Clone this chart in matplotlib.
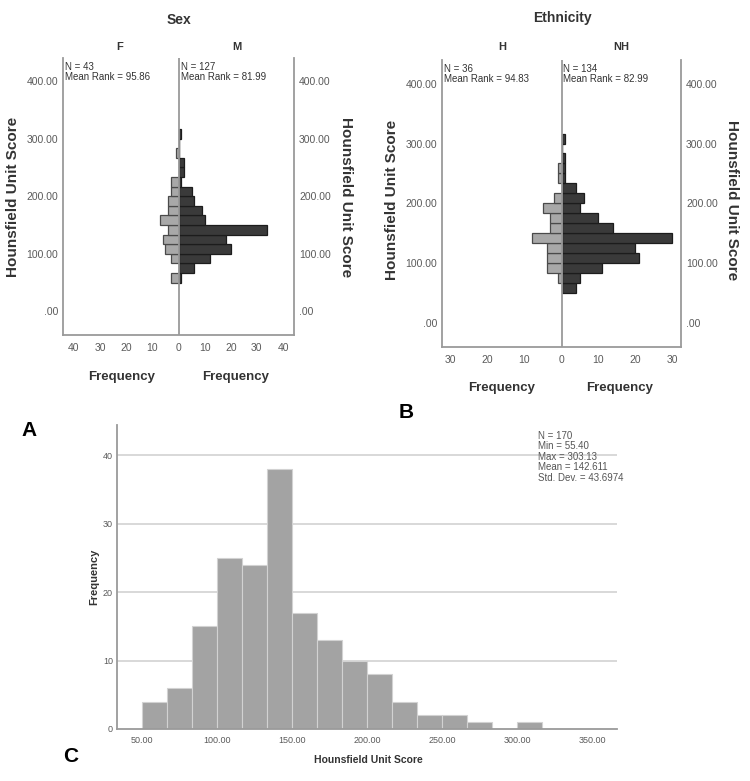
import numpy as np
import matplotlib
matplotlib.use("Agg")
import matplotlib.pyplot as plt

# bins shared by every histogram (Hounsfield unit score)
bin_left = [50.00, 66.67, 83.33, 100.00, 116.67, 133.33, 150.00, 166.67,
            183.33, 200.00, 216.67, 233.33, 250.00, 266.67, 283.33, 300.00]
bin_width = 16.667

# frequencies per bin
female = [3, 0, 3, 5, 6, 4, 7, 4, 4, 3, 3, 0, 0, 1, 0, 0]
male = [1, 6, 12, 20, 18, 34, 10, 9, 6, 5, 1, 2, 2, 0, 0, 1]
hispanic = [0, 1, 4, 4, 4, 8, 3, 3, 5, 2, 0, 1, 1, 0, 0, 0]
non_hispanic = [4, 5, 11, 21, 20, 30, 14, 10, 5, 6, 4, 1, 1, 1, 0, 1]
total = [4, 6, 15, 25, 24, 38, 17, 13, 10, 8, 4, 2, 2, 1, 0, 1]

hu_ticks = [0, 100, 200, 300, 400]
hu_tick_labels = [".00", "100.00", "200.00", "300.00", "400.00"]
hist_xticks = [50, 100, 150, 200, 250, 300, 350]
hist_yticks = [0, 10, 20, 30, 40]
stats_text = "N = 170\nMin = 55.40\nMax = 303.13\nMean = 142.611\nStd. Dev. = 43.6974"

plt.rcParams["font.family"] = ["Liberation Sans", "DejaVu Sans"]
NARROW = ["Liberation Sans Narrow", "Liberation Sans", "DejaVu Sans"]
LIGHT = "#a8a8a8"
DARK = "#3a3a3a"
FRAME = "#9a9a9a"
TICK = "#5a5a5a"

W, H = 750, 781
fig = plt.figure(figsize=(7.5, 7.81), dpi=100)


def box(x0, y0, x1, y1):
    return [x0 / W, 1 - y1 / H, (x1 - x0) / W, (y1 - y0) / H]


def ftext(x, y, s, **kw):
    fig.text(x / W, 1 - y / H, s, **kw)


def pyramid(ax, left_counts, right_counts, xmax, xticks):
    centers = np.array(bin_left) + bin_width / 2
    ax.barh(centers, -np.array(left_counts), height=bin_width, color=LIGHT,
            edgecolor="#4a4a4a", linewidth=0.9, zorder=2)
    ax.barh(centers, right_counts, height=bin_width, color=DARK,
            edgecolor="#1c1c1c", linewidth=0.9, zorder=2)
    ax.axvline(0, color=FRAME, lw=1.3, zorder=3)
    ax.set_xlim(-xmax, xmax)
    ax.set_ylim(-41, 440)
    ax.set_xticks(xticks)
    ax.set_xticklabels([str(abs(t)) for t in xticks])
    ax.set_yticks(hu_ticks)
    ax.set_yticklabels(hu_tick_labels)
    ax.tick_params(axis="both", length=0, colors=TICK, labelsize=7.5)
    ax.tick_params(axis="y", labelright=True, pad=3.6)
    ax.tick_params(axis="x", pad=5.5)
    for lbl in ax.get_xticklabels() + ax.get_yticklabels():
        lbl.set_fontfamily(NARROW)
    for t in ax.yaxis.get_major_ticks():
        t.label2.set_fontfamily(NARROW)
    ax.spines["top"].set_visible(False)
    for s in ["left", "right", "bottom"]:
        ax.spines[s].set_color(FRAME)
        ax.spines[s].set_linewidth(1.3)


# ---- A : Sex
axA = fig.add_axes(box(63, 58, 294, 335))
pyramid(axA, female, male, 44.2, [-40, -30, -20, -10, 0, 10, 20, 30, 40])
ftext(179, 20, "Sex", ha="center", va="center", fontsize=10, fontweight="bold", color="#333333")
ftext(120, 47, "F", ha="center", va="center", fontsize=8, fontweight="bold", color="#333333")
ftext(237, 47, "M", ha="center", va="center", fontsize=8, fontweight="bold", color="#333333")
ftext(65, 62, "N = 43\nMean Rank = 95.86", ha="left", va="top", fontsize=7,
      family=NARROW, linespacing=1.05, color="#333333")
ftext(181, 62, "N = 127\nMean Rank = 81.99", ha="left", va="top", fontsize=7,
      family=NARROW, linespacing=1.05, color="#333333")
ftext(13, 197, "Hounsfield Unit Score", ha="center", va="center", rotation=90,
      fontsize=11, fontweight="bold", color="#333333")
ftext(346, 197, "Hounsfield Unit Score", ha="center", va="center", rotation=270,
      fontsize=11, fontweight="bold", color="#333333")
ftext(122, 377, "Frequency", ha="center", va="center", fontsize=9.5, fontweight="bold", color="#333333")
ftext(236, 377, "Frequency", ha="center", va="center", fontsize=9.5, fontweight="bold", color="#333333")

# ---- B : Ethnicity
axB = fig.add_axes(box(442, 60, 681, 347))
pyramid(axB, hispanic, non_hispanic, 32.3, [-30, -20, -10, 0, 10, 20, 30])
ftext(562, 18, "Ethnicity", ha="center", va="center", fontsize=10, fontweight="bold", color="#333333")
ftext(502, 47, "H", ha="center", va="center", fontsize=8, fontweight="bold", color="#333333")
ftext(621, 47, "NH", ha="center", va="center", fontsize=8, fontweight="bold", color="#333333")
ftext(444, 64, "N = 36\nMean Rank = 94.83", ha="left", va="top", fontsize=7,
      family=NARROW, linespacing=1.05, color="#333333")
ftext(563, 64, "N = 134\nMean Rank = 82.99", ha="left", va="top", fontsize=7,
      family=NARROW, linespacing=1.05, color="#333333")
ftext(392, 200, "Hounsfield Unit Score", ha="center", va="center", rotation=90,
      fontsize=11, fontweight="bold", color="#333333")
ftext(732, 200, "Hounsfield Unit Score", ha="center", va="center", rotation=270,
      fontsize=11, fontweight="bold", color="#333333")
ftext(502, 388, "Frequency", ha="center", va="center", fontsize=9.5, fontweight="bold", color="#333333")
ftext(620, 388, "Frequency", ha="center", va="center", fontsize=9.5, fontweight="bold", color="#333333")

# ---- C : overall histogram
axC = fig.add_axes(box(117, 425, 617, 729))
axC.bar(bin_left, total, width=bin_width, align="edge", color="#a3a3a3",
        edgecolor="#d2d2d2", linewidth=0.8, zorder=2)
for yv in hist_yticks[1:]:
    axC.axhline(yv, color="#d6d6d6", lw=1.3, zorder=1)
axC.set_xlim(33.33, 366.67)
axC.set_ylim(0, 44.4)
axC.set_xticks(hist_xticks)
axC.set_xticklabels([f"{v:.2f}" for v in hist_xticks])
axC.set_yticks(hist_yticks)
axC.tick_params(axis="both", length=0, colors=TICK, labelsize=6.5)
axC.tick_params(axis="x", pad=5)
axC.tick_params(axis="y", pad=3)
for lbl in axC.get_xticklabels() + axC.get_yticklabels():
    lbl.set_fontfamily(NARROW)
for s in ["top", "right"]:
    axC.spines[s].set_visible(False)
for s in ["left", "bottom"]:
    axC.spines[s].set_color(FRAME)
    axC.spines[s].set_linewidth(1.3)
ftext(538, 431, stats_text, ha="left", va="top", fontsize=7, family=NARROW,
      linespacing=1.06, color="#555555")
ftext(94, 577, "Frequency", ha="center", va="center", rotation=90, fontsize=8,
      fontweight="bold", color="#333333")
ftext(368, 760, "Hounsfield Unit Score", ha="center", va="center", fontsize=7.5,
      fontweight="bold", color="#333333")

# panel letters
for letter, (lx, ly) in {"A": (29, 431), "B": (406, 413), "C": (71, 757)}.items():
    ftext(lx, ly, letter, ha="center", va="center", fontsize=15, fontweight="bold",
          family=["Liberation Sans", "DejaVu Sans"], color="black")

fig.savefig("out.png", dpi=100, facecolor="white")
